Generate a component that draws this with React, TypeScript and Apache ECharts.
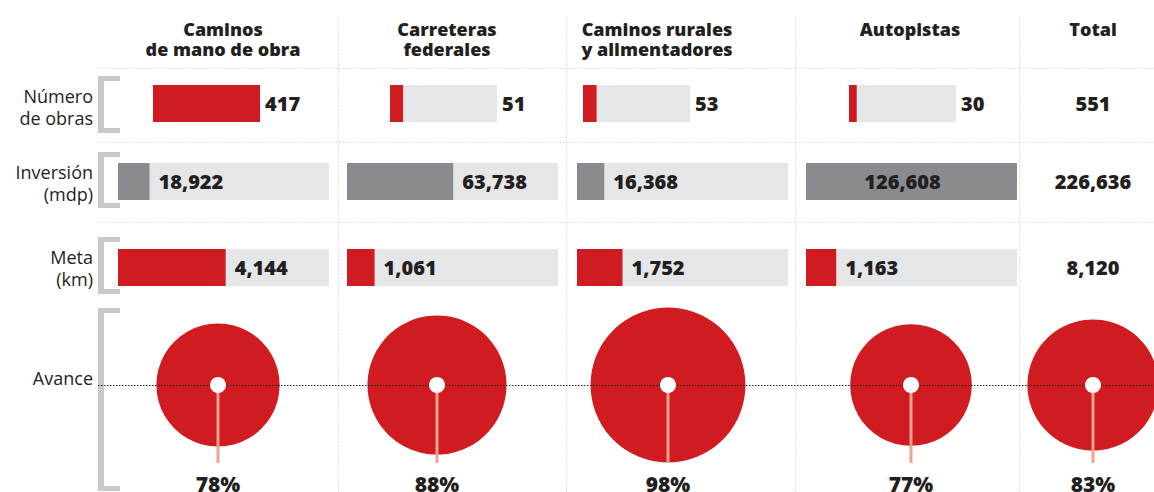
import React, { useEffect, useRef } from 'react';
import * as echarts from 'echarts';

// ---- data ----
const categories = ['Caminos\nde mano de obra', 'Carreteras\nfederales', 'Caminos rurales\ny alimentadores', 'Autopistas'];
const totalLabel = 'Total';
const rowLabels = ['Número\nde obras', 'Inversión\n(mdp)', 'Meta\n(km)', 'Avance'];
const obras = [417, 51, 53, 30];
const obrasTotal = 551;
const inversion = [18922, 63738, 16368, 126608];
const inversionTotal = 226636;
const meta = [4144, 1061, 1752, 1163];
const metaTotal = 8120;
const avance = [78, 88, 98, 77];
const avanceTotal = 83;

// ---- layout / style ----
const W = 1154;
const H = 492;
const FONT = '"Open Sans", "DejaVu Sans", sans-serif';
const HEAVY = 800;
const RED = '#d01b21';
const DARK = '#8a8b8f';
const LIGHT = '#e5e6e8';
const PINK = '#f0a28c';
const TEXT = '#231f20';
const BRACKET = '#c9c9c9';
const GRIDLINE = '#d6d6d6';

const headerX = [223, 447, 657, 910, 1093];
const obrasLeft = [153, 390, 583, 849];
const obrasWidth = 107;
const wideLeft = [118, 347, 577, 806];
const wideWidth = 211;
const rowTop = [85, 163, 249];
const barH = 37;
const circleX = [218, 437, 668, 911, 1093];
const circleCY = 385;
const circleBottom = 463;
const sizePerPct = 1.58;
const rowLabelY = [107, 183, 268, 378];
const brackets = [[76, 133], [152, 208], [237, 294], [308, 491]];
const hLines = [68, 142, 222];
const vLines = [338, 566, 795, 1019];

const fmt = (n: number) => n.toLocaleString('en-US');

function buildOption() {
  const grid: any[] = [];
  const xAxis: any[] = [];
  const yAxis: any[] = [];
  const series: any[] = [];
  const addGrid = (left: number, top: number, width: number, height: number, xa: any, ya: any) => {
    const i = grid.length;
    grid.push({ left, top, width, height, containLabel: false });
    xAxis.push({ gridIndex: i, show: false, ...xa });
    yAxis.push({ gridIndex: i, show: false, ...ya });
    return i;
  };
  const valueLabel = { color: TEXT, fontFamily: FONT, fontWeight: HEAVY, fontSize: 20 };

  const rows = [
    { values: obras, color: RED, lefts: obrasLeft, width: obrasWidth, max: Math.max(...obras), onTrack: true },
    { values: inversion, color: DARK, lefts: wideLeft, width: wideWidth, max: Math.max(...inversion), onTrack: false },
    { values: meta, color: RED, lefts: wideLeft, width: wideWidth, max: metaTotal, onTrack: false },
  ];

  rows.forEach((row, r) => {
    row.values.forEach((v, c) => {
      const gi = addGrid(row.lefts[c], rowTop[r], row.width, barH,
        { type: 'value', min: 0, max: row.max },
        { type: 'category', data: [categories[c]] });
      const full = v >= row.max;
      series.push({
        type: 'bar', xAxisIndex: gi, yAxisIndex: gi, data: [row.max], barWidth: barH, barGap: '-100%',
        itemStyle: { color: LIGHT }, silent: true, z: 2,
        label: row.onTrack
          ? { show: true, position: 'right', distance: 5, formatter: fmt(v), ...valueLabel }
          : { show: false },
      });
      series.push({
        type: 'bar', xAxisIndex: gi, yAxisIndex: gi, data: [v], barWidth: barH, barGap: '-100%',
        itemStyle: { color: row.color }, silent: true, z: 3,
        label: row.onTrack
          ? { show: false }
          : {
              show: true, position: full ? 'inside' : 'right', distance: 9,
              offset: full ? [-9, 0] : [0, 0], formatter: fmt(v), ...valueLabel,
            },
      });
    });
  });

  const pcts = [...avance, avanceTotal];
  const names = [...categories, totalLabel];
  pcts.forEach((p, k) => {
    const half = circleBottom - circleCY;
    const gi = addGrid(circleX[k] - 10, circleCY - half, 20, 2 * half,
      { type: 'category', data: [names[k]] },
      { type: 'value', min: 0, max: 2 });
    series.push({
      type: 'scatter', xAxisIndex: gi, yAxisIndex: gi, data: [1], symbolSize: p * sizePerPct,
      itemStyle: { color: RED, opacity: 1 }, clip: false, silent: true, z: 1,
    });
    series.push({
      type: 'bar', xAxisIndex: gi, yAxisIndex: gi, data: [1], barWidth: 3,
      itemStyle: { color: PINK }, clip: false, silent: true, z: 3,
      label: {
        show: true, position: 'bottom', distance: 10, formatter: `${p}%`,
        color: TEXT, fontFamily: FONT, fontWeight: HEAVY, fontSize: 21,
      },
    });
    series.push({
      type: 'scatter', xAxisIndex: gi, yAxisIndex: gi, data: [1], symbolSize: 16,
      itemStyle: { color: '#ffffff', opacity: 1 }, clip: false, silent: true, z: 4,
    });
  });

  const graphic: any[] = [];
  hLines.forEach((y) => graphic.push({
    type: 'line', z: 0, silent: true,
    shape: { x1: 98, y1: y + 0.5, x2: W, y2: y + 0.5 },
    style: { stroke: GRIDLINE, lineWidth: 1, lineDash: [1.5, 2] },
  }));
  vLines.forEach((x) => graphic.push({
    type: 'line', z: 0, silent: true,
    shape: { x1: x + 0.5, y1: 18, x2: x + 0.5, y2: H },
    style: { stroke: GRIDLINE, lineWidth: 1, lineDash: [1.5, 2] },
  }));
  graphic.push({
    type: 'line', z: 2, silent: true,
    shape: { x1: 98, y1: circleCY + 0.5, x2: W, y2: circleCY + 0.5 },
    style: { stroke: '#222', lineWidth: 1, lineDash: [1.5, 1.5] },
  });
  brackets.forEach(([t, b]) => {
    graphic.push({ type: 'rect', z: 1, silent: true, shape: { x: 98, y: t, width: 6, height: b - t }, style: { fill: BRACKET } });
    graphic.push({ type: 'rect', z: 1, silent: true, shape: { x: 98, y: t, width: 22, height: 5 }, style: { fill: BRACKET } });
    graphic.push({ type: 'rect', z: 1, silent: true, shape: { x: 98, y: b - 5, width: 22, height: 5 }, style: { fill: BRACKET } });
  });
  names.forEach((n, k) => {
    const multi = n.includes('\n');
    graphic.push({
      type: 'text', z: 5, silent: true, x: headerX[k], y: multi ? 39 : 29,
      style: {
        text: n, fill: TEXT, fontFamily: FONT, fontWeight: HEAVY, fontSize: 18, lineHeight: 20,
        align: 'center', verticalAlign: 'middle',
      },
    });
  });
  rowLabels.forEach((t, r) => {
    graphic.push({
      type: 'text', z: 5, silent: true, x: 93, y: rowLabelY[r],
      style: {
        text: t, fill: TEXT, fontFamily: FONT, fontSize: 18, lineHeight: 22,
        align: 'right', verticalAlign: 'middle',
      },
    });
  });
  const totals = [obrasTotal, inversionTotal, metaTotal];
  totals.forEach((v, r) => {
    graphic.push({
      type: 'text', z: 5, silent: true, x: headerX[4], y: rowTop[r] + barH / 2,
      style: {
        text: fmt(v), fill: TEXT, fontFamily: FONT, fontWeight: HEAVY, fontSize: 20,
        align: 'center', verticalAlign: 'middle',
      },
    });
  });

  return {
    animation: false,
    backgroundColor: '#ffffff',
    grid, xAxis, yAxis, series, graphic,
  };
}

export default function App() {
  const ref = useRef<HTMLDivElement>(null);
  useEffect(() => {
    if (!ref.current) return;
    const chart = echarts.init(ref.current, undefined, { renderer: 'svg', width: W, height: H });
    chart.setOption(buildOption() as any);
    return () => chart.dispose();
  }, []);
  return (
    <div
      ref={ref}
      style={{ position: 'fixed', left: 0, top: 0, width: W, height: H, background: '#fff' }}
    />
  );
}
